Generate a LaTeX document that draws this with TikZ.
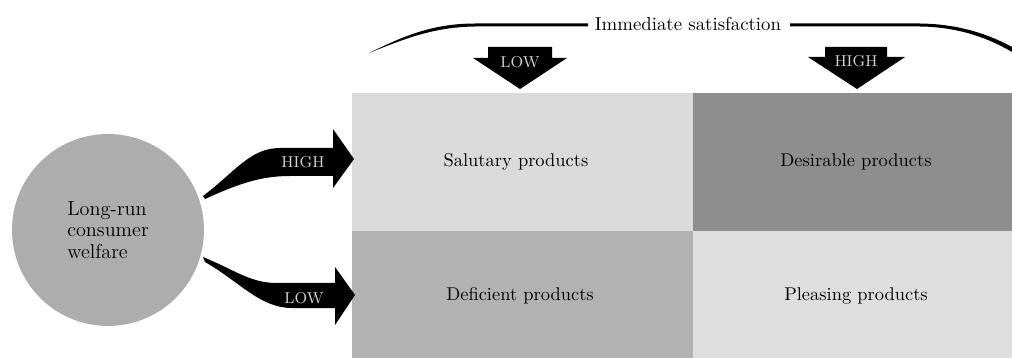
\documentclass[tikz,border=0pt]{standalone}
\usepackage{fontspec}
\definecolor{circcol}{HTML}{ADADAD}
\definecolor{salcol}{HTML}{DADADA}
\definecolor{descol}{HTML}{8E8E8E}
\definecolor{defcol}{HTML}{B2B2B2}
\definecolor{plecol}{HTML}{DEDEDE}
\definecolor{labcol}{HTML}{D4D4D4}
\begin{document}
\begin{tikzpicture}[x=0.02cm,y=-0.02cm,
  quadlabel/.style={font=\fontsize{10.5}{12}\selectfont, inner sep=0pt},
  arrowlabel/.style={text=labcol, inner sep=0pt, font=\fontsize{9}{10}\selectfont\addfontfeatures{LetterSpace=14}},
  blockarrow/.style={fill=black},
  bracepart/.style={fill=black}]
\useasboundingbox (0,0) rectangle (1012,358);
% quadrants
\fill[salcol] (352,93) rectangle (693,231);
\fill[descol] (693,93) rectangle (1012,231);
\fill[defcol] (352,231) rectangle (693,358);
\fill[plecol] (693,231) rectangle (1012,358);
\node[quadlabel] (sal) at (516,162) {Salutary products};
\node[quadlabel] (des) at (856,162) {Desirable products};
\node[quadlabel] (def) at (520,296) {Deficient products};
\node[quadlabel] (ple) at (856,296) {Pleasing products};
% circle
\node[circle, fill=circcol, minimum size=3.84cm, inner sep=0pt, align=left,
      font=\fontsize{11.5}{12.2}\selectfont] (welfare) at (108,230)
      {Long-run\\consumer\\welfare};
% horizontal block arrows
\coordinate (hstart) at (203,196);
\coordinate (lstart) at (203,257);
\fill[blockarrow] (hstart) .. controls (235,172) and (250,148) .. (280,148)
  -- (333,148) -- (333,129) -- (354,159) -- (333,188) -- (333,176) -- (290,176)
  .. controls (262,176) and (240,183) .. (205,199) -- cycle;
\node[arrowlabel] (hhigh) at (303,162) {HIGH};
\fill[blockarrow] (lstart) .. controls (235,270) and (250,283) .. (277,283)
  -- (335,283) -- (335,267) -- (355,295) -- (335,325) -- (335,308) -- (292,308)
  .. controls (260,308) and (240,282) .. (205,262) -- cycle;
\node[arrowlabel] (hlow) at (304,298) {LOW};
% top title and brace
\node[font=\fontsize{10.7}{12}\selectfont, inner sep=0pt] (imm) at (688,24) {Immediate satisfaction};
\fill[bracepart] (369,53) .. controls (400,38) and (430,23.5) .. (475,23.5)
  -- (588,23.5) -- (588,26.3) -- (475,26.5) .. controls (432,27) and (402,40) .. (369,53) -- cycle;
\fill[bracepart] (790,23.5) -- (920,23.5) .. controls (960,24) and (990,35) .. (1012,47)
  -- (1012,52) .. controls (990,39) and (960,27) .. (920,26.5) -- (790,26.5) -- cycle;
% down block arrows
\fill[blockarrow] (488,47) -- (552,47) -- (552,58) -- (567,58) -- (520,89) -- (473,58) -- (488,58) -- cycle;
\node[arrowlabel] (vlow) at (520,62) {LOW};
\fill[blockarrow] (825,47) -- (887,47) -- (887,57) -- (905,57) -- (857,89) -- (808,57) -- (825,57) -- cycle;
\node[arrowlabel] (vhigh) at (856,61) {HIGH};
\end{tikzpicture}
\end{document}
